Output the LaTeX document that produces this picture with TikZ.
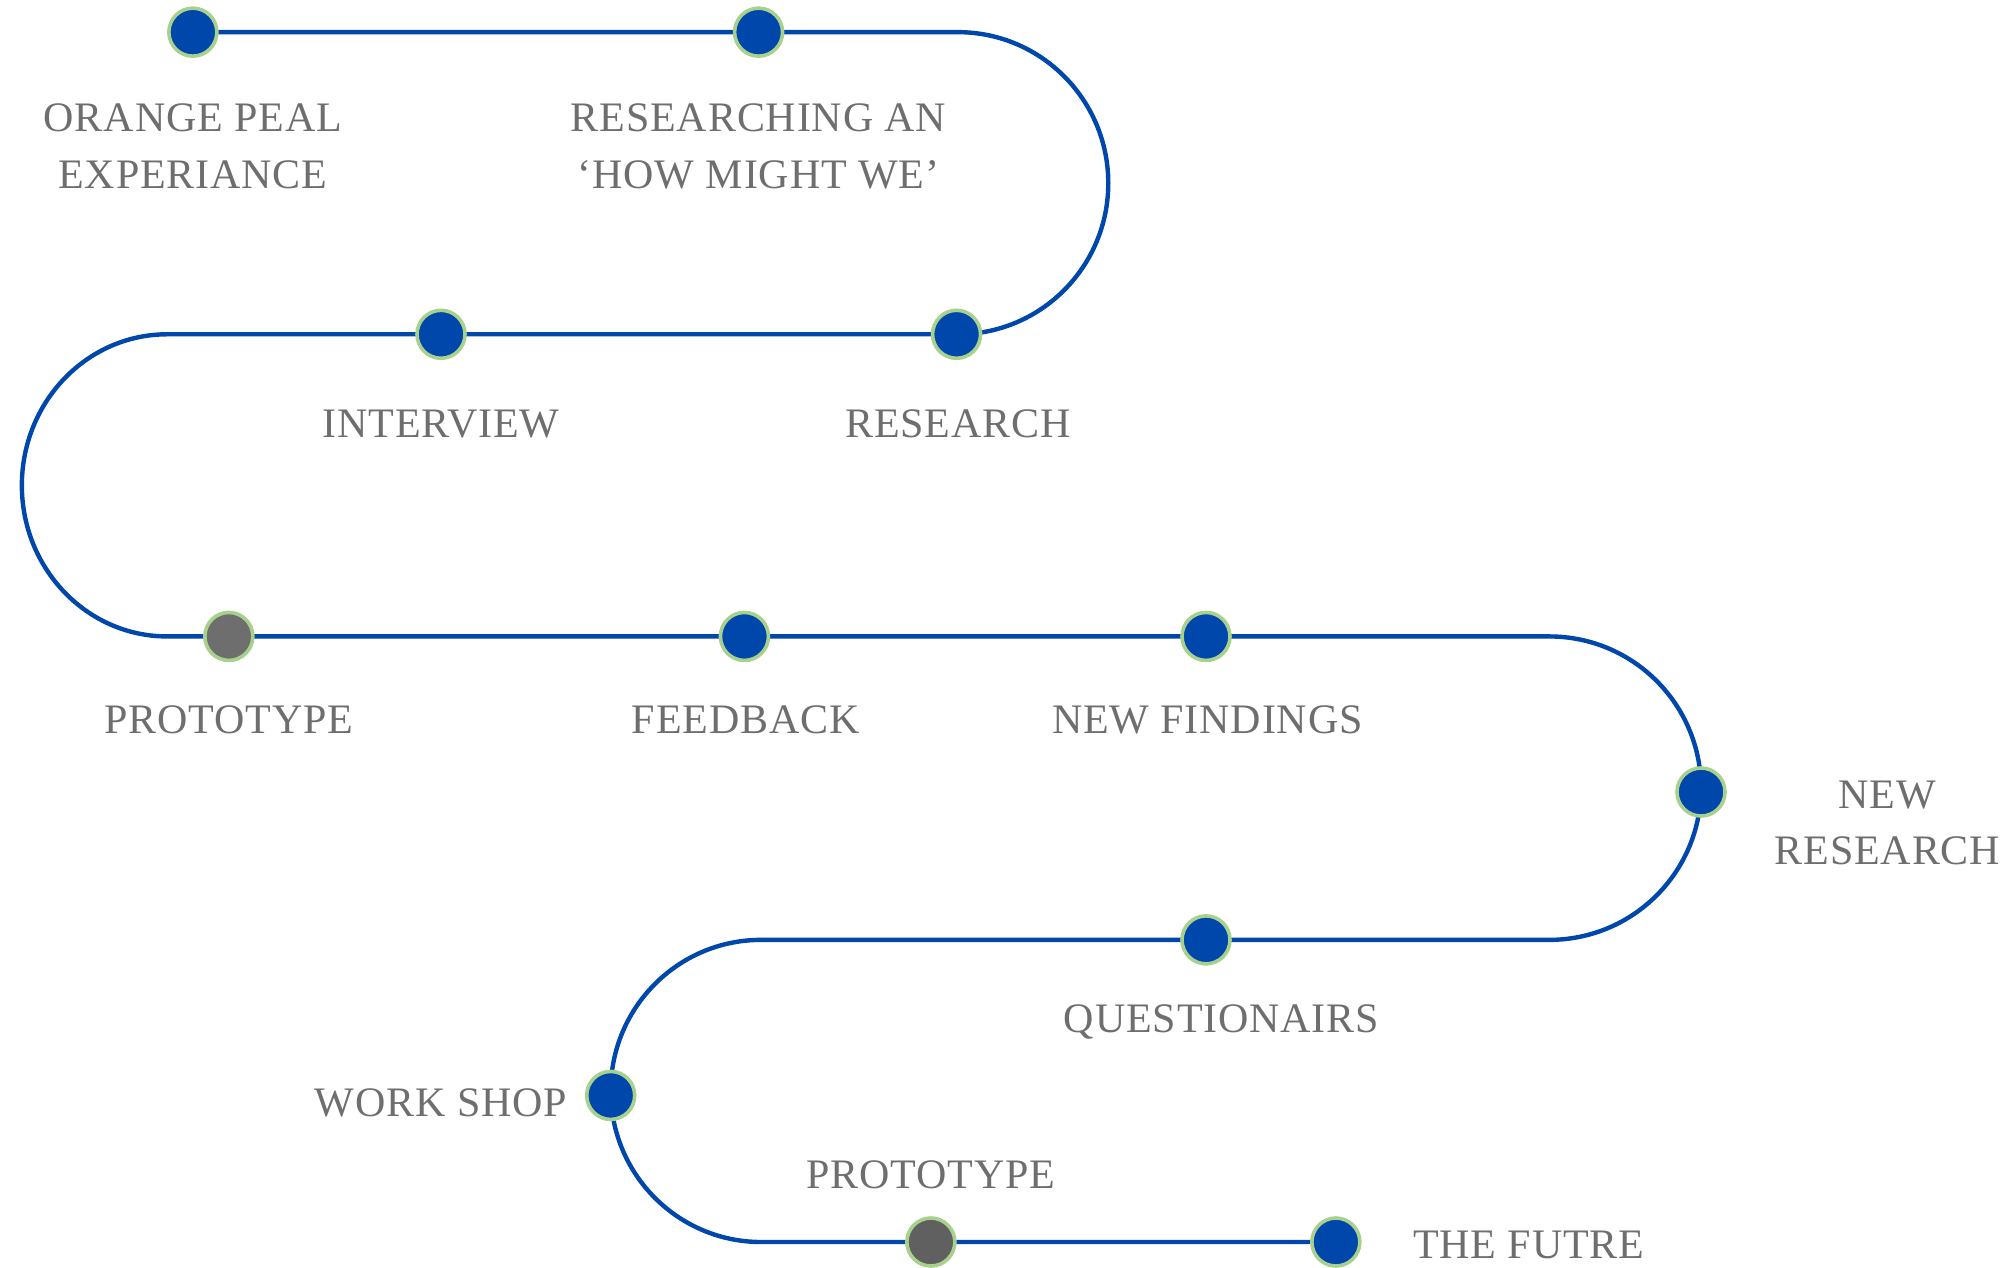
\documentclass[tikz,border=0pt]{standalone}
\usepackage{fontspec}
\setmainfont{Liberation Serif}[LetterSpace=2]
\definecolor{pathblue}{HTML}{0047AB}
\definecolor{ringgreen}{HTML}{A9D18E}
\definecolor{txtgray}{HTML}{6E6E6E}
\definecolor{dotgray}{HTML}{6E6E6E}
\definecolor{dotdark}{HTML}{606060}
\begin{document}
\begin{tikzpicture}[x=1.2857pt,y=-1.2857pt,
  route/.style={draw=pathblue,line width=4.4pt},
  stop/.style={circle,minimum size=48pt,inner sep=0pt,fill=pathblue,draw=ringgreen,line width=3.6pt},
  graystop/.style={stop,fill=dotgray},
  darkstop/.style={stop,fill=dotdark},
  lbl/.style={text=txtgray,font=\fontsize{42}{56.6}\selectfont,align=center,inner sep=0pt,anchor=center}]
\useasboundingbox (0,0) rectangle (1568,986);
% turning points
\coordinate (t1) at (745,25);
\coordinate (t2) at (745,260);
\coordinate (t3) at (130,260);
\coordinate (t4) at (130,495);
\coordinate (t5) at (1205,495);
\coordinate (t6) at (1205,731);
\coordinate (t7) at (592,731);
\coordinate (t8) at (592,966);
% stops
\coordinate (p1) at (150,25);
\coordinate (p2) at (590,25);
\coordinate (p3) at (744,260);
\coordinate (p4) at (343,260);
\coordinate (p5) at (178,495);
\coordinate (p6) at (579,495);
\coordinate (p7) at (938,495);
\coordinate (p8) at (1323,616);
\coordinate (p9) at (938,731);
\coordinate (p10) at (475,852);
\coordinate (p11) at (724,966);
\coordinate (p12) at (1039,966);
\draw[route] (p1) -- (t1) arc[start angle=-90,end angle=90,x radius=117,y radius=117.5]
  -- (t3) arc[start angle=270,end angle=90,x radius=113,y radius=117.5]
  -- (t5) arc[start angle=-90,end angle=90,x radius=118,y radius=118]
  -- (t7) arc[start angle=270,end angle=90,x radius=117,y radius=117.5]
  -- (p12);
\node[stop] (s1) at (p1) {};
\node[stop] (s2) at (p2) {};
\node[stop] (s3) at (p3) {};
\node[stop] (s4) at (p4) {};
\node[graystop] (s5) at (p5) {};
\node[stop] (s6) at (p6) {};
\node[stop] (s7) at (p7) {};
\node[stop] (s8) at (p8) {};
\node[stop] (s9) at (p9) {};
\node[stop] (s10) at (p10) {};
\node[darkstop] (s11) at (p11) {};
\node[stop] (s12) at (p12) {};
% labels
\node[lbl] (l1) at (150,114) {ORANGE PEAL\\EXPERIANCE};
\node[lbl] (l2) at (590,114) {RESEARCHING AN\\‘HOW MIGHT WE’};
\node[lbl] (l3) at (343,330) {INTERVIEW};
\node[lbl] (l4) at (745,330) {RESEARCH};
\node[lbl] (l5) at (178,560) {PROTOTYPE};
\node[lbl] (l6) at (580,560) {FEEDBACK};
\node[lbl] (l7) at (939,560) {NEW FINDINGS};
\node[lbl] (l8) at (1468,640) {NEW\\RESEARCH};
\node[lbl] (l9) at (950,795) {QUESTIONAIRS};
\node[lbl] (l10) at (343,858) {WORK SHOP};
\node[lbl] (l11) at (724,914) {PROTOTYPE};
\node[lbl] (l12) at (1189,968) {THE FUTRE};
\end{tikzpicture}
\end{document}
